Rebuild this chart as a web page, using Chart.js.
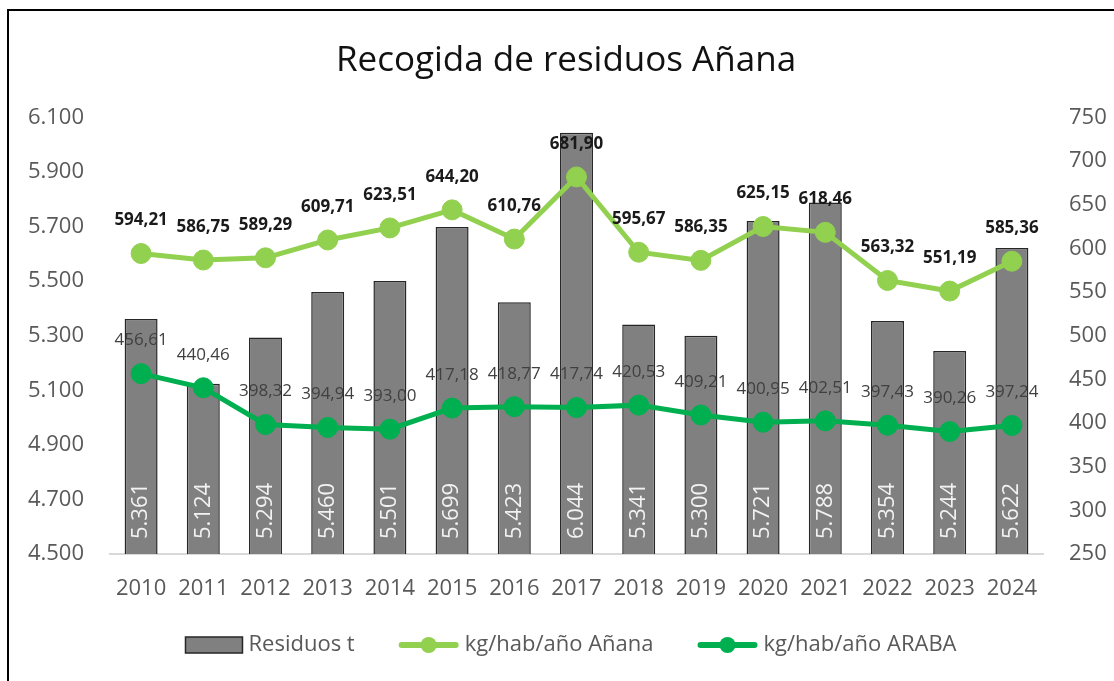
<!DOCTYPE html>
<html>
<head>
<meta charset="utf-8">
<script src="https://cdn.jsdelivr.net/npm/chart.js@4.4.1/dist/chart.umd.min.js"></script>
<style>
  html, body { margin: 0; padding: 0; background: #fff; overflow: hidden; }
  #wrap { position: relative; width: 1114px; height: 681px; }
  #frame { position: absolute; left: 7px; top: 9px; right: -20px; bottom: -20px;
           border-left: 2px solid #000; border-top: 2px solid #000; }
  canvas { position: absolute; left: 0; top: 0; }
</style>
</head>
<body>
<div id="wrap">
  <div id="frame"></div>
  <canvas id="chart" width="1114" height="681"></canvas>
</div>
<script>
// data
const years = ['2010', '2011', '2012', '2013', '2014', '2015', '2016', '2017',
               '2018', '2019', '2020', '2021', '2022', '2023', '2024'];
const residuos = [5361, 5124, 5294, 5460, 5501, 5699, 5423, 6044,
                  5341, 5300, 5721, 5788, 5354, 5244, 5622];
const kgAnana = [594.21, 586.75, 589.29, 609.71, 623.51, 644.20, 610.76, 681.90,
                 595.67, 586.35, 625.15, 618.46, 563.32, 551.19, 585.36];
const kgAraba = [456.61, 440.46, 398.32, 394.94, 393.00, 417.18, 418.77, 417.74,
                 420.53, 409.21, 400.95, 402.51, 397.43, 390.26, 397.24];

// axis ranges
const residuosAxis = [4500, 6100, 200];  // min, max, step
const kgAxis = [250, 750, 50];

const FONT = '"Open Sans", "Noto Sans", sans-serif';
const GREY_TEXT = '#595959';

// 5361 -> "5.361", 594.21 -> "594,21"
const miles = v => String(Math.round(v)).replace(/\B(?=(\d{3})+(?!\d))/g, '.');
const decimal = v => v.toFixed(2).replace('.', ',');

// value labels, drawn from the element positions the scales give
const valueLabels = {
    id: 'valueLabels',
    afterDatasetsDraw(chart) {
        const ctx = chart.ctx;
        const bottom = chart.chartArea.bottom;
        chart.data.datasets.forEach((ds, i) => {
            const meta = chart.getDatasetMeta(i);
            meta.data.forEach((el, j) => {
                const v = ds.data[j];
                const pos = el.getProps(['x', 'y'], true);
                ctx.save();
                ctx.textBaseline = 'middle';
                if (ds.type === 'bar') {
                    ctx.translate(pos.x, bottom - 15);
                    ctx.rotate(-Math.PI / 2);
                    ctx.font = '22px ' + FONT;
                    ctx.fillStyle = '#f2f2f2';
                    ctx.textAlign = 'left';
                    ctx.fillText(miles(v), 0, 0);
                } else {
                    ctx.font = ds.labelFont;
                    ctx.fillStyle = ds.labelColor;
                    ctx.textAlign = 'center';
                    ctx.fillText(decimal(v), pos.x, pos.y - 33);
                }
                ctx.restore();
            });
        });
    }
};

// Excel-like legend under the axis
const bottomLegend = {
    id: 'bottomLegend',
    afterDraw(chart) {
        const ctx = chart.ctx;
        const y = 645;
        ctx.save();
        ctx.font = '22px ' + FONT;
        ctx.textBaseline = 'middle';

        const items = chart.data.datasets.map(ds => ({
            label: ds.label,
            bar: ds.type === 'bar',
            color: ds.type === 'bar' ? ds.backgroundColor : ds.borderColor,
            iconW: ds.type === 'bar' ? 57 : 60,
            textW: ctx.measureText(ds.label).width
        }));
        const gapIcon = 6, gapItem = 44;
        let total = 0;
        items.forEach((it, k) => {
            total += it.iconW + gapIcon + it.textW + (k < items.length - 1 ? gapItem : 0);
        });
        let x = 571 - total / 2;

        items.forEach(it => {
            if (it.bar) {
                ctx.fillStyle = it.color;
                ctx.fillRect(x, y - 8, it.iconW, 16);
                ctx.strokeStyle = '#262626';
                ctx.lineWidth = 1.5;
                ctx.strokeRect(x, y - 8, it.iconW, 16);
            } else {
                ctx.strokeStyle = it.color;
                ctx.lineWidth = 6;
                ctx.lineCap = 'round';
                ctx.beginPath();
                ctx.moveTo(x + 3, y);
                ctx.lineTo(x + it.iconW - 3, y);
                ctx.stroke();
                ctx.fillStyle = it.color;
                ctx.beginPath();
                ctx.arc(x + it.iconW / 2, y, 8, 0, Math.PI * 2);
                ctx.fill();
            }
            x += it.iconW + gapIcon;
            ctx.fillStyle = GREY_TEXT;
            ctx.textAlign = 'left';
            ctx.fillText(it.label, x, y);
            x += it.textW + gapItem;
        });
        ctx.restore();
    }
};

const tickFont = { family: FONT, size: 22 };

new Chart(document.getElementById('chart').getContext('2d'), {
    data: {
        labels: years,
        datasets: [
            {
                type: 'bar',
                label: 'Residuos t',
                data: residuos,
                yAxisID: 'y',
                backgroundColor: '#808080',
                borderColor: '#262626',
                borderWidth: 1.5,
                barPercentage: 0.53,
                categoryPercentage: 1,
                order: 3
            },
            {
                type: 'line',
                label: 'kg/hab/año Añana',
                data: kgAnana,
                yAxisID: 'y1',
                borderColor: '#92D050',
                backgroundColor: '#92D050',
                borderWidth: 5,
                pointRadius: 10,
                pointBorderWidth: 1,
                pointHoverRadius: 10,
                tension: 0,
                order: 1,
                labelFont: 'bold 17px ' + FONT,
                labelColor: '#1a1a1a'
            },
            {
                type: 'line',
                label: 'kg/hab/año ARABA',
                data: kgAraba,
                yAxisID: 'y1',
                borderColor: '#00B050',
                backgroundColor: '#00B050',
                borderWidth: 5,
                pointRadius: 10,
                pointBorderWidth: 1,
                pointHoverRadius: 10,
                tension: 0,
                order: 2,
                labelFont: '17px ' + FONT,
                labelColor: '#404040'
            }
        ]
    },
    options: {
        responsive: false,
        animation: false,
        layout: { padding: { left: 18, right: 0, top: 0, bottom: 80 } },
        plugins: {
            legend: { display: false },
            tooltip: { enabled: false },
            title: {
                display: true,
                text: 'Recogida de residuos Añana',
                color: '#111',
                font: { family: FONT, size: 35, weight: 'normal', lineHeight: 1.1 },
                padding: { top: 42, bottom: 37 }
            }
        },
        scales: {
            x: {
                grid: { display: false, drawTicks: false },
                border: { display: true, color: '#d9d9d9', width: 2 },
                ticks: { color: GREY_TEXT, font: tickFont, padding: 22, maxRotation: 0, autoSkip: false },
                afterFit: s => { s.height = 47; }
            },
            y: {
                position: 'left',
                min: residuosAxis[0],
                max: residuosAxis[1],
                grid: { display: false, drawTicks: false },
                border: { display: false },
                ticks: { stepSize: residuosAxis[2], color: GREY_TEXT, font: tickFont, padding: 26,
                         callback: v => miles(v) },
                afterFit: s => { s.width = 92; }
            },
            y1: {
                position: 'right',
                min: kgAxis[0],
                max: kgAxis[1],
                grid: { display: false, drawTicks: false },
                border: { display: false },
                ticks: { stepSize: kgAxis[2], color: GREY_TEXT, font: tickFont, padding: 26 },
                afterFit: s => { s.width = 71; }
            }
        }
    },
    plugins: [valueLabels, bottomLegend]
});
</script>
</body>
</html>
